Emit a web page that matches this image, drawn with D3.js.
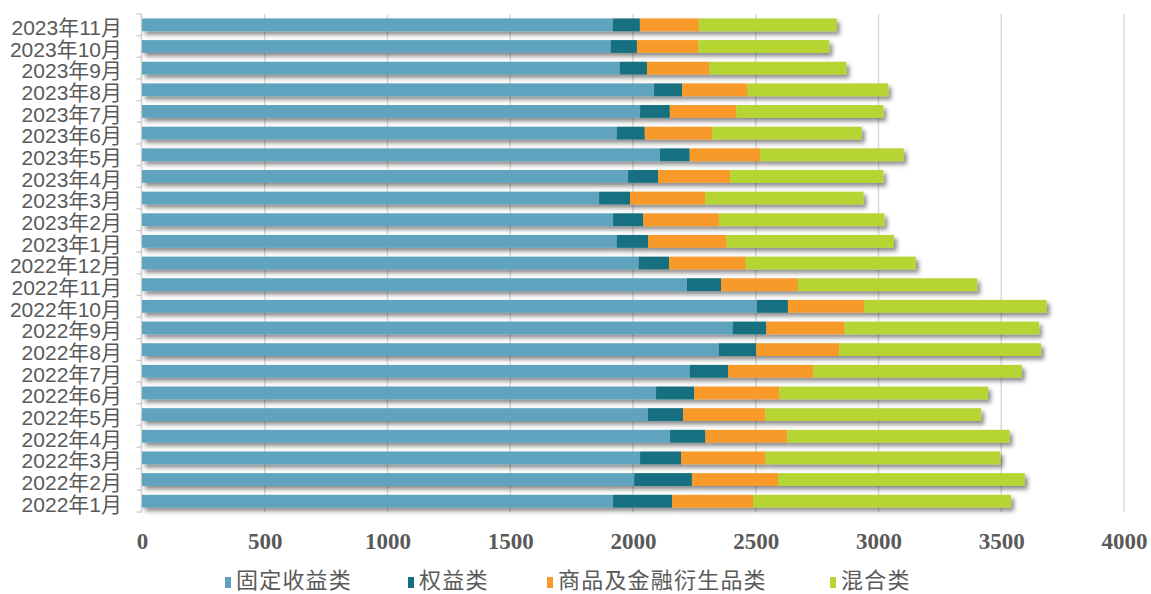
<!DOCTYPE html>
<html>
<head>
<meta charset="utf-8">
<script src="https://cdn.jsdelivr.net/npm/d3@7"></script>
<style>
  html, body { margin: 0; padding: 0; background: #ffffff; }
  svg { display: block; }
</style>
</head>
<body>
<div id="chart"></div>
<script>
// Monthly categories, listed bottom to top
const months = [
  "2022年1月", "2022年2月", "2022年3月", "2022年4月", "2022年5月", "2022年6月",
  "2022年7月", "2022年8月", "2022年9月", "2022年10月", "2022年11月", "2022年12月",
  "2023年1月", "2023年2月", "2023年3月", "2023年4月", "2023年5月", "2023年6月",
  "2023年7月", "2023年8月", "2023年9月", "2023年10月", "2023年11月"
];

const seriesNames = ["固定收益类", "权益类", "商品及金融衍生品类", "混合类"];

const fixedIncome = [1919, 2005, 2029, 2151, 2061, 2094, 2231, 2350, 2406, 2505, 2220, 2023,
                     1934, 1919, 1862, 1980, 2110, 1934, 2029, 2086, 1946, 1909, 1918];
const equity      = [240, 235, 167, 144, 143, 155, 156, 152, 137, 126, 139, 124,
                     127, 123, 126, 122, 121, 114, 121, 114, 111, 107, 110];
const commodity   = [330, 351, 344, 333, 335, 347, 346, 337, 319, 310, 313, 312,
                     319, 308, 306, 293, 286, 275, 271, 266, 253, 249, 240];
const mixed       = [1051, 1005, 956, 906, 879, 850, 851, 823, 792, 744, 730, 693,
                     683, 674, 645, 625, 586, 609, 599, 574, 559, 535, 562];

const xTicks = [0, 500, 1000, 1500, 2000, 2500, 3000, 3500, 4000];

const colors = ["#5FA3BF", "#127080", "#F79A2A", "#B6D433"];

const W = 1151, H = 594;
const margin = { left: 142, right: 27, top: 14, bottom: 82 };

const rows = months.map((m, i) => ({
  month: m,
  [seriesNames[0]]: fixedIncome[i],
  [seriesNames[1]]: equity[i],
  [seriesNames[2]]: commodity[i],
  [seriesNames[3]]: mixed[i]
}));

const stacked = d3.stack().keys(seriesNames)(rows);

const svg = d3.select("#chart").append("svg")
  .attr("width", W).attr("height", H);

// Soft drop shadow under the bars
const defs = svg.append("defs");
const f = defs.append("filter").attr("id", "barShadow")
  .attr("x", "-5%").attr("y", "-50%").attr("width", "115%").attr("height", "250%");
f.append("feDropShadow")
  .attr("dx", 3).attr("dy", 3.5).attr("stdDeviation", 2.2)
  .attr("flood-color", "#000").attr("flood-opacity", 0.45);

const x = d3.scaleLinear().domain([0, 4000]).range([margin.left, W - margin.right]);
const y = d3.scaleBand()
  .domain(months.slice().reverse())
  .range([margin.top, H - margin.bottom])
  .paddingInner(0.41).paddingOuter(0.205);

// Vertical gridlines
svg.append("g").selectAll("line")
  .data(xTicks.slice(1))
  .join("line")
  .attr("x1", d => x(d)).attr("x2", d => x(d))
  .attr("y1", margin.top).attr("y2", H - margin.bottom)
  .attr("stroke", "#D5DCD5").attr("stroke-width", 1.5);

// Left category axis with boundary ticks between months
const yAxisG = svg.append("g").attr("transform", `translate(${margin.left - 0.5},0)`);
yAxisG.append("line")
  .attr("y1", margin.top).attr("y2", H - margin.bottom)
  .attr("stroke", "#D0D0D0").attr("stroke-width", 1.5);
const rowH = (H - margin.bottom - margin.top) / months.length;
const boundaries = d3.range(months.length + 1).map(i => margin.top + i * rowH);
yAxisG.selectAll("line.tick")
  .data(boundaries)
  .join("line").attr("class", "tick")
  .attr("x1", -5).attr("x2", 0)
  .attr("y1", d => d).attr("y2", d => d)
  .attr("stroke", "#D0D0D0").attr("stroke-width", 1.5);

// Stacked bars
const barsG = svg.append("g").attr("filter", "url(#barShadow)");
barsG.selectAll("g")
  .data(stacked)
  .join("g")
  .attr("fill", (d, i) => colors[i])
  .selectAll("rect")
  .data(d => d)
  .join("rect")
  .attr("x", d => x(d[0]))
  .attr("width", d => x(d[1]) - x(d[0]))
  .attr("y", d => y(d.data.month))
  .attr("height", y.bandwidth());

// Category labels
svg.append("g").selectAll("text")
  .data(months)
  .join("text")
  .attr("x", 122)
  .attr("y", d => y(d) + y.bandwidth() / 2 + 3)
  .attr("dy", "0.35em")
  .attr("text-anchor", "end")
  .attr("font-family", "'Liberation Sans', Arial, 'Noto Sans CJK SC', sans-serif")
  .attr("font-size", 21)
  .attr("fill", "#595959")
  .text(d => d);

// Value axis labels
const xAxis = d3.axisBottom(x).tickValues(xTicks).tickSize(0).tickPadding(0).tickFormat(d3.format("d"));
const xAxisG = svg.append("g")
  .attr("transform", `translate(0,${H - margin.bottom})`)
  .call(xAxis);
xAxisG.select(".domain").remove();
xAxisG.selectAll("text")
  .attr("y", 29)
  .attr("dy", "0.35em")
  .attr("font-family", "'Liberation Serif', 'Times New Roman', serif")
  .attr("font-weight", "bold")
  .attr("font-size", 23)
  .attr("fill", "#595959");

// Legend
const legendX = [225, 408, 547, 830];
const legend = svg.append("g");
seriesNames.forEach((name, i) => {
  const g = legend.append("g").attr("transform", `translate(${legendX[i]},0)`);
  g.append("rect").attr("x", 0).attr("y", 577).attr("width", 6).attr("height", 11).attr("fill", colors[i]);
  g.append("text")
    .attr("x", 11).attr("y", 588)
    .attr("font-family", "'Noto Sans CJK SC', sans-serif")
    .attr("font-size", 22)
    .attr("letter-spacing", 1.2)
    .attr("fill", "#595959")
    .text(name);
});
</script>
</body>
</html>
